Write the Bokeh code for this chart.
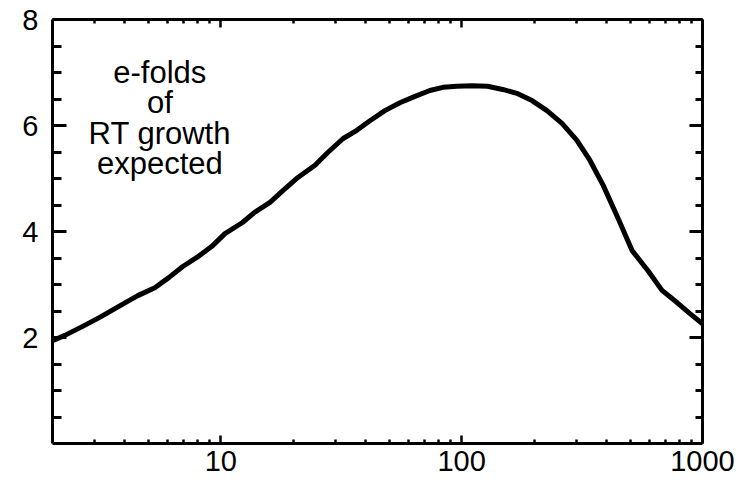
from bokeh.plotting import figure
from bokeh.models import FixedTicker, LinearAxis, LogAxis, Range1d, ColumnDataSource, NumeralTickFormatter
from bokeh.core.properties import value
from bokeh.embed import file_html
from bokeh.resources import INLINE

# ---- data ----
x_vals = [2.0, 2.25, 2.67, 3.14, 3.95, 4.52, 5.32, 6.08, 6.95, 7.95, 9.18, 10.4, 12.3, 13.8,
          16.0, 18.1, 20.9, 24.6, 27.8, 32.1, 36.7, 41.6, 48.0, 55.4, 64.0, 73.8, 83.6, 95.5,
          110, 128, 148, 171, 196, 226, 261, 301, 341, 387, 446, 510, 594, 679, 784, 887, 1000]
efolds = [1.94, 2.04, 2.21, 2.38, 2.64, 2.79, 2.94, 3.13, 3.34, 3.51, 3.72, 3.96, 4.17, 4.36,
          4.55, 4.77, 5.02, 5.25, 5.49, 5.75, 5.91, 6.09, 6.28, 6.43, 6.55, 6.66, 6.72, 6.74,
          6.75, 6.74, 6.68, 6.60, 6.47, 6.28, 6.04, 5.72, 5.34, 4.87, 4.25, 3.64, 3.26, 2.89,
          2.66, 2.45, 2.26]
x_major = [10, 100, 1000]
x_minor = [3, 4, 5, 6, 7, 8, 9, 20, 30, 40, 50, 60, 70, 80, 90,
           200, 300, 400, 500, 600, 700, 800, 900]
y_major = [2, 4, 6, 8]
y_minor = [0.5, 1, 1.5, 2.5, 3, 3.5, 4.5, 5, 5.5, 6.5, 7, 7.5]
ann_lines = ["e-folds", "of", "RT growth", "expected"]

# annotation placement (layout, not data)
ann_x = 5.58
ann_y = [7.0, 6.425, 5.85, 5.275]

FONT = "Liberation Sans"

p = figure(width=751, height=483, x_axis_type="log",
           x_range=Range1d(2, 1000), y_range=Range1d(0, 8),
           output_backend="svg", toolbar_location=None,
           min_border_left=52, min_border_right=49, min_border_top=19, min_border_bottom=40)
p.grid.visible = False
p.outline_line_color = None
p.background_fill_color = "white"
p.border_fill_color = "white"

xt = FixedTicker(ticks=x_major, minor_ticks=x_minor)
yt = FixedTicker(ticks=y_major, minor_ticks=y_minor)


def style(ax, major_in, minor_in, lw, show_labels, ticks):
    ax.axis_line_width = 3
    ax.axis_line_color = "black"
    ax.major_tick_in = major_in
    ax.major_tick_out = 0
    ax.minor_tick_in = minor_in
    ax.minor_tick_out = 0
    ax.major_tick_line_width = lw
    ax.minor_tick_line_width = lw
    ax.major_tick_line_color = "black"
    ax.minor_tick_line_color = "black"
    if show_labels:
        ax.major_label_text_font = FONT
        ax.major_label_text_font_size = "29px"
        ax.major_label_text_color = "black"
        ax.major_label_standoff = 12
    else:
        ax.major_label_overrides = {t: "" for t in ticks}
        ax.major_label_text_font_size = "2px"
        ax.major_label_text_alpha = 0
        ax.major_label_standoff = 0


bx = p.xaxis[0]
bx.ticker = xt
bx.formatter = NumeralTickFormatter(format="0")
style(bx, 8, 4, 2.5, True, x_major)
bx.major_label_standoff = 7

ly = p.yaxis[0]
ly.ticker = yt
style(ly, 14, 9, 3, True, y_major)
ly.major_label_standoff = 14

tx = LogAxis(ticker=xt)
style(tx, 8, 4, 2.5, False, x_major)
p.add_layout(tx, "above")

ry = LinearAxis(ticker=yt)
style(ry, 13, 7, 3, False, y_major)
p.add_layout(ry, "right")

src = ColumnDataSource(dict(x=x_vals, y=efolds))
p.line("x", "y", source=src, line_color="black", line_width=5, line_join="round", line_cap="round")

asrc = ColumnDataSource(dict(x=[ann_x] * len(ann_lines), y=ann_y, t=ann_lines))
p.text("x", "y", text="t", source=asrc, text_font=value(FONT), text_font_size="31px",
       text_align="center", text_baseline="alphabetic", text_color="black")

open("out.html", "w").write(file_html(p, INLINE))
